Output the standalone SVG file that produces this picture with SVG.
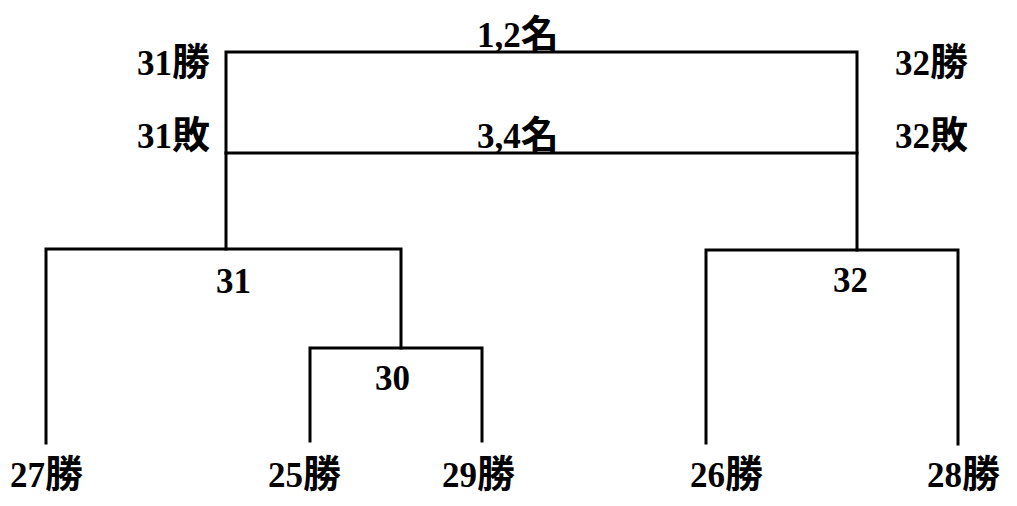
<svg xmlns="http://www.w3.org/2000/svg" width="1017" height="506" viewBox="0 0 1017 506">
<style>
.c{fill:none;stroke:#000;stroke-width:3;stroke-linecap:square;stroke-linejoin:miter}
text{font-family:"Liberation Serif","Noto Sans CJK TC",serif;font-weight:bold;font-size:35px;fill:#000}
.k{font-size:38px}
</style>
<rect width="1017" height="506" fill="#fff"/>
<g id="connectors">
<path class="c" d="M226,249 V52 H857 V250"/>
<path class="c" d="M226,153 H857"/>
<path class="c" d="M46,443 V249 H401 V348"/>
<path class="c" d="M310,441 V348 H482 V441"/>
<path class="c" d="M706,443 V250 H958 V444"/>
</g>
<g id="final"><text x="477" y="47">1,2<tspan class="k">名</tspan></text><text x="137" y="75">31<tspan class="k">勝</tspan></text><text x="895" y="75">32<tspan class="k">勝</tspan></text></g>
<g id="third"><text x="477" y="148">3,4<tspan class="k">名</tspan></text><text x="137" y="148">31<tspan class="k">敗</tspan></text><text x="895" y="148">32<tspan class="k">敗</tspan></text></g>
<g id="m31"><text x="216" y="293">31</text></g>
<g id="m32"><text x="833" y="292">32</text></g>
<g id="m30"><text x="375" y="390">30</text></g>
<g id="t27"><text x="10" y="487">27<tspan class="k">勝</tspan></text></g>
<g id="t25"><text x="268" y="487">25<tspan class="k">勝</tspan></text></g>
<g id="t29"><text x="442" y="487">29<tspan class="k">勝</tspan></text></g>
<g id="t26"><text x="690" y="487">26<tspan class="k">勝</tspan></text></g>
<g id="t28"><text x="927" y="487">28<tspan class="k">勝</tspan></text></g>
</svg>
